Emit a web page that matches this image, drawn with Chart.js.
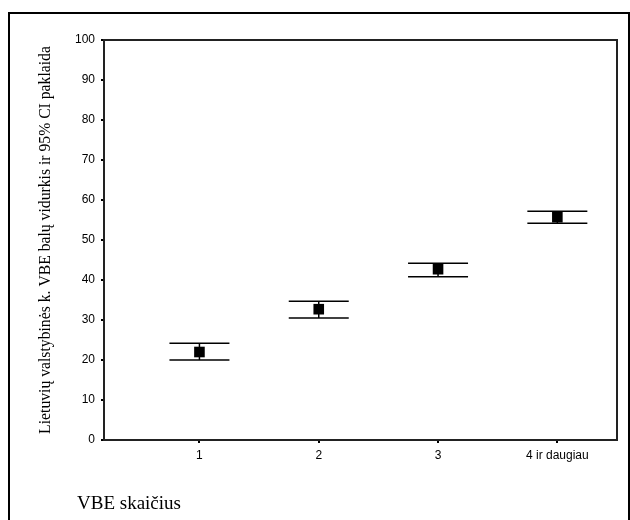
<!DOCTYPE html>
<html>
<head>
<meta charset="utf-8">
<title>VBE skaičius</title>
<script src="https://cdn.jsdelivr.net/npm/chart.js@4"></script>
<style>
    body { margin: 0; background: #fff; }
    #wrap { position: relative; width: 630px; height: 520px; overflow: hidden; }
    #frame { position: absolute; left: 8px; top: 12px; width: 618px; height: 600px; border: 2px solid #000; }
    #chart { position: absolute; left: 0; top: 0; }
    #xtitle { position: absolute; left: 77px; top: 492px; font: 19px "Liberation Serif", "Times New Roman", serif; line-height: 22px; color: #000; }
</style>
</head>
<body>
<div id="wrap">
    <div id="frame"></div>
    <canvas id="chart" width="630" height="520"></canvas>
    <div id="xtitle">VBE skaičius</div>
</div>
<script>
var categories = ['1', '2', '3', '4 ir daugiau'];
var means = [22.0, 32.7, 42.7, 55.7];
var lower = [20.0, 30.5, 40.8, 54.2];
var upper = [24.2, 34.7, 44.2, 57.2];
var yTicks = [0, 10, 20, 30, 40, 50, 60, 70, 80, 90, 100];

function points(values) {
    return values.map(function (v, i) {
        return {x: i + 1, y: v};
    });
}

// box round the plot area (top and right edges)
var boxPlugin = {
    id: 'box',
    afterDraw: function (chart) {
        var a = chart.chartArea;
        var ctx = chart.ctx;
        ctx.save();
        ctx.strokeStyle = '#222';
        ctx.lineWidth = 2;
        ctx.strokeRect(a.left, a.top, a.right - a.left, a.bottom - a.top);
        ctx.restore();
    }
};

var datasets = [{
    label: 'vidurkis',
    data: points(means),
    pointStyle: 'rect',
    pointRadius: 7.5,
    backgroundColor: '#000',
    borderColor: '#000',
    borderWidth: 0
}, {
    label: 'viršutinė riba',
    data: points(upper),
    pointStyle: 'line',
    pointRadius: 30,
    borderColor: '#000',
    borderWidth: 1.5
}, {
    label: 'apatinė riba',
    data: points(lower),
    pointStyle: 'line',
    pointRadius: 30,
    borderColor: '#000',
    borderWidth: 1.5
}];

// vertical whisker for each category
categories.forEach(function (c, i) {
    datasets.push({
        label: c,
        data: [{x: i + 1, y: lower[i]}, {x: i + 1, y: upper[i]}],
        showLine: true,
        pointRadius: 0,
        borderColor: '#000',
        borderWidth: 1.5
    });
});

var ctx = document.getElementById('chart').getContext('2d');
new Chart(ctx, {
    type: 'scatter',
    data: {datasets: datasets},
    plugins: [boxPlugin],
    options: {
        responsive: false,
        animation: false,
        events: [],
        layout: {autoPadding: false, padding: {left: 30, right: 13, top: 40, bottom: 0}},
        plugins: {
            legend: {display: false},
            tooltip: {enabled: false}
        },
        scales: {
            x: {
                type: 'linear',
                min: 0.2,
                max: 4.5,
                afterBuildTicks: function (scale) {
                    scale.ticks = categories.map(function (c, i) {
                        return {value: i + 1};
                    });
                },
                afterFit: function (scale) {
                    scale.height = 80;
                    scale.paddingLeft = 0;
                    scale.paddingRight = 0;
                },
                ticks: {
                    color: '#000',
                    padding: 5,
                    font: {family: '"Liberation Sans", Arial, sans-serif', size: 12},
                    callback: function (v) {
                        return categories[v - 1];
                    }
                },
                grid: {drawOnChartArea: false, tickLength: 3, color: '#000', lineWidth: 2},
                border: {color: '#000', width: 2}
            },
            y: {
                min: 0,
                max: 100,
                afterBuildTicks: function (scale) {
                    scale.ticks = yTicks.map(function (v) {
                        return {value: v};
                    });
                },
                afterFit: function (scale) {
                    scale.width = 74;
                },
                ticks: {
                    color: '#000',
                    padding: 6,
                    font: {family: '"Liberation Sans", Arial, sans-serif', size: 12}
                },
                grid: {drawOnChartArea: false, tickLength: 3, color: '#000', lineWidth: 2},
                border: {color: '#000', width: 2},
                title: {
                    display: true,
                    text: 'Lietuvių valstybinės k. VBE balų vidurkis ir 95% CI paklaida',
                    color: '#000',
                    padding: {top: 6, bottom: 0},
                    font: {family: '"Liberation Serif", "Times New Roman", serif', size: 15.7}
                }
            }
        }
    }
});
</script>
</body>
</html>
